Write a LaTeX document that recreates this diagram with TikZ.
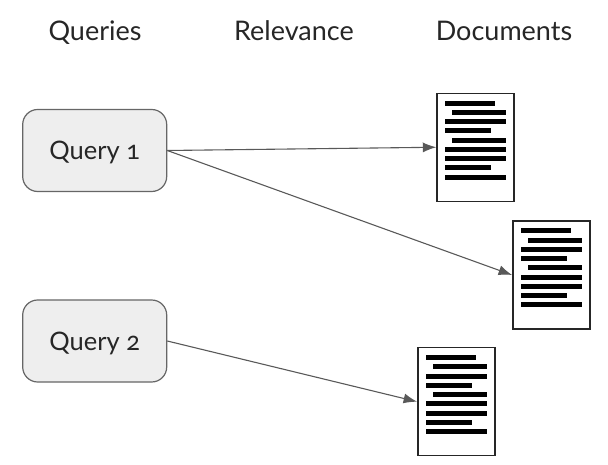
\documentclass[tikz,border=0pt]{standalone}
\usepackage{fontspec}
\setmainfont[Numbers=OldStyle]{Lato}
\usetikzlibrary{arrows.meta}
\definecolor{boxfill}{HTML}{EEEEEE}
\definecolor{boxline}{HTML}{666666}
\definecolor{linkline}{HTML}{595959}
\tikzset{
    heading/.style={anchor=base,font=\fontsize{27}{32}\selectfont,text=black!85},
    querybox/.style={draw=boxline,fill=boxfill,line width=1.2pt,rounded corners=15pt,minimum width=144pt,minimum height=82pt,inner sep=0pt,text height=24pt,text depth=6pt,font=\fontsize{25.5}{30}\selectfont,text=black!85},
    docpage/.style={draw=black!85,fill=white,line width=1.4pt,minimum width=77pt,minimum height=108pt,inner sep=0pt},
    link/.style={draw=linkline,line width=1.1pt,-{Latex[length=13.5pt,width=10pt]}},
}
\begin{document}
\begin{tikzpicture}[x=1pt,y=-1pt]
    \useasboundingbox (0,0) rectangle (608,465);
    \node[heading] (queries) at (95,41) {Queries};
    \node[heading] (relevance) at (294,41) {Relevance};
    \node[heading] (documents) at (504,41) {Documents};
    \node[querybox] (query1) at (94.7,150.5) {Query 1};
    \node[querybox] (query2) at (94.7,341) {Query 2};
    \foreach \name/\x/\y in {doc1/475.5/147.25,doc2/551.3/275,doc3/456.3/401.7}{
        \node[docpage] (\name) at (\x,\y) {};
        \foreach \i/\a/\b in {0/8.5/58.5,1/16/69.5,2/8.5/69.5,3/8.5/54.5,4/16/69.5,5/8.5/69.5,6/8.5/69.5,7/8.5/54.5,8/8.5/69.5}{
            \fill[black] ([xshift=\a pt,yshift=-8-9.25*\i pt]\name.north west) rectangle ([xshift=\b pt,yshift=-13-9.25*\i pt]\name.north west);
        }
    }
    \draw[link] (query1.east) -- (doc1.west);
    \draw[link] (query1.east) -- (doc2.west);
    \draw[link] (query2.east) -- (doc3.west);
\end{tikzpicture}
\end{document}
